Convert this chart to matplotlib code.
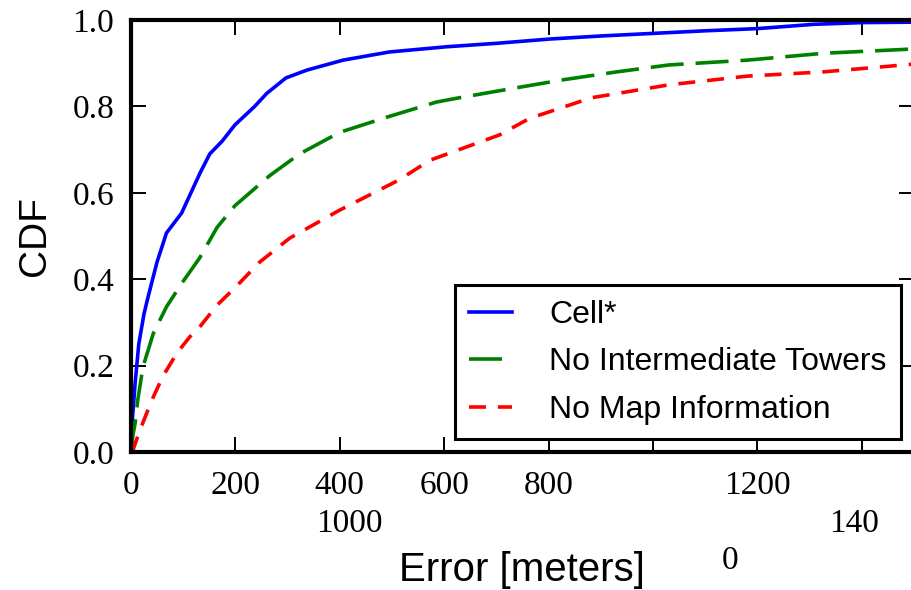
import matplotlib
matplotlib.use('Agg')
import matplotlib.pyplot as plt

# error [m] vs CDF
cell_x = [0, 3, 8, 15, 25, 33, 50, 68, 97, 132, 151, 175, 199, 237, 260, 297, 337, 406, 495, 604, 700, 803, 900, 1000, 1100, 1199, 1308, 1402, 1500]
cell_y = [0.0, 0.08, 0.16, 0.25, 0.32, 0.36, 0.44, 0.507, 0.553, 0.645, 0.69, 0.72, 0.757, 0.80, 0.83, 0.866, 0.884, 0.907, 0.926, 0.938, 0.946, 0.956, 0.963, 0.969, 0.975, 0.98, 0.99, 0.994, 0.995]

noint_x = [0, 4, 8, 13, 23, 43, 68, 97, 132, 165, 199, 266, 323, 400, 490, 585, 629, 733, 830, 931, 1031, 1180, 1327, 1500]
noint_y = [0.0, 0.04, 0.067, 0.12, 0.197, 0.275, 0.336, 0.39, 0.45, 0.52, 0.57, 0.64, 0.69, 0.74, 0.775, 0.81, 0.82, 0.842, 0.862, 0.88, 0.896, 0.907, 0.923, 0.933]

nomap_x = [0, 4, 17, 40, 61, 88, 113, 132, 165, 199, 247, 304, 400, 514, 572, 706, 763, 882, 1031, 1180, 1327, 1500]
nomap_y = [0.0, 0.005, 0.05, 0.12, 0.175, 0.229, 0.267, 0.29, 0.34, 0.38, 0.44, 0.495, 0.56, 0.63, 0.675, 0.734, 0.772, 0.82, 0.85, 0.87, 0.88, 0.898]

labels = ['Cell*', 'No Intermediate Towers', 'No Map Information']
xticks = [0, 200, 400, 600, 800, 1000, 1200, 1400]
xticklabels = ['0', '200', '400', '600', '800', '', '1200', '']
yticks = [0.0, 0.2, 0.4, 0.6, 0.8, 1.0]

plt.rcParams['lines.scale_dashes'] = False

fig = plt.figure(figsize=(9.12, 5.9), dpi=100)
ax = fig.add_axes([0.1436, 0.2339, 0.8586, 0.7322])

ax.plot(cell_x, cell_y, color='blue', lw=2.6, label=labels[0])
ax.plot(noint_x, noint_y, color='green', lw=2.6, dashes=(23.8, 8.6), label=labels[1])
ax.plot(nomap_x, nomap_y, color='red', lw=2.6, dashes=(12.2, 8.6), label=labels[2])

ax.set_xlim(0, 1500)
ax.set_ylim(0, 1.0)
ax.set_xticks(xticks)
ax.set_xticklabels(xticklabels)
ax.set_yticks(yticks)
ax.set_yticklabels(['%.1f' % v for v in yticks])

for lab in ax.get_xticklabels() + ax.get_yticklabels():
    lab.set_family('Liberation Serif')
    lab.set_fontsize(24)
ax.tick_params(direction='in', length=10.8, width=1.4, top=True, right=True)
ax.tick_params(axis='x', pad=13)
ax.tick_params(axis='y', pad=12)
for s in ax.spines.values():
    s.set_linewidth(3)

# the wrapped tick labels of the original
tr = ax.get_xaxis_transform()
ax.text(419, -0.1667, '1000', transform=tr, ha='center', va='center', family='Liberation Serif', fontsize=24)
ax.text(1385, -0.1667, '140', transform=tr, ha='center', va='center', family='Liberation Serif', fontsize=24)
ax.text(1147, -0.2523, '0', transform=tr, ha='center', va='center', family='Liberation Serif', fontsize=24)

ax.set_xlabel('Error [meters]', family='Liberation Sans', fontsize=29)
ax.xaxis.set_label_coords(0.4994, -0.229)
ax.set_ylabel('CDF', family='Liberation Sans', fontsize=28)
ax.yaxis.set_label_coords(-0.1, 0.5)

leg = ax.legend(loc='lower right', prop={'family': 'Liberation Sans', 'size': 23},
                handlelength=1.35, handletextpad=1.17, labelspacing=0.55,
                borderpad=0.45, borderaxespad=0.4, fancybox=False, framealpha=1)
leg.get_frame().set_edgecolor('black')
leg.get_frame().set_linewidth(2.2)

plt.savefig('out.png', dpi=100)
